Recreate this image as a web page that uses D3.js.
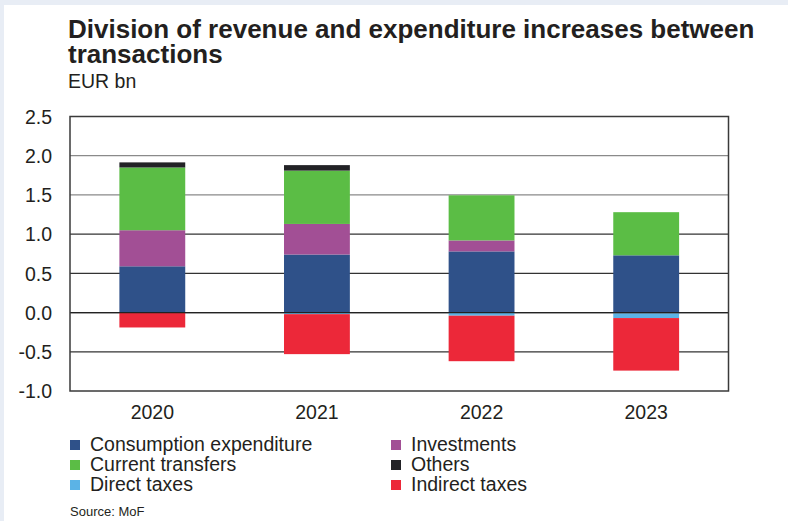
<!DOCTYPE html>
<html>
<head>
<meta charset="utf-8">
<script src="https://cdnjs.cloudflare.com/ajax/libs/d3/7.8.5/d3.min.js"></script>
<style>
    body { margin: 0; background: #fff; }
    text { font-family: "Liberation Sans", Arial, sans-serif; fill: #231f20; }
</style>
</head>
<body>
<script>
// Chart data (EUR bn)
var years = ["2020", "2021", "2022", "2023"];
var consumption      = [0.59, 0.74, 0.78, 0.73];
var investments      = [0.46, 0.39, 0.14, 0.00];
var currentTransfers = [0.80, 0.68, 0.575, 0.55];
var others           = [0.065, 0.07, 0.00, -0.01];
var directTaxes      = [0.00, -0.02, -0.04, -0.06];
var indirectTaxes    = [-0.19, -0.51, -0.58, -0.67];
var yTicks = [-1.0, -0.5, 0.0, 0.5, 1.0, 1.5, 2.0, 2.5];

var seriesNames = ["Consumption expenditure", "Investments", "Current transfers",
                   "Others", "Direct taxes", "Indirect taxes"];
var seriesValues = [consumption, investments, currentTransfers, others, directTaxes, indirectTaxes];
var seriesColors = ["#2f5189", "#a24f95", "#5bbd45", "#222226", "#5bb3e6", "#ec2839"];

var width = 788, height = 521;

var svg = d3.select("body").append("svg")
    .attr("width", width)
    .attr("height", height);

// light frame strips on top and left
svg.append("rect").attr("x", 0).attr("y", 0).attr("width", width).attr("height", 5).attr("fill", "#e8edf5");
svg.append("rect").attr("x", 0).attr("y", 0).attr("width", 4).attr("height", height).attr("fill", "#e8edf5");

////////////////////////////
// Titles
var title = svg.append("text")
    .attr("x", 68).attr("y", 38)
    .attr("font-size", "26px").attr("font-weight", "bold");
title.append("tspan").attr("x", 68).attr("y", 38).text("Division of revenue and expenditure increases between");
title.append("tspan").attr("x", 68).attr("y", 63).text("transactions");

svg.append("text").attr("x", 68).attr("y", 88).attr("font-size", "19.5px").text("EUR bn");

////////////////////////////
// Scales
var plotL = 70, plotR = 728.5, plotT = 116.5, plotB = 391;

var x = d3.scaleBand().domain(years).range([plotL, plotR]).paddingInner(0.6).paddingOuter(0.3);
var y = d3.scaleLinear().domain([-1, 2.5]).range([plotB, plotT]);

// rows for the stack
var rows = years.map(function(yr, i) {
    var r = { year: yr };
    seriesNames.forEach(function(n, k) { r[n] = seriesValues[k][i]; });
    return r;
});

var stacked = d3.stack()
    .keys(seriesNames)
    .offset(d3.stackOffsetDiverging)(rows);

// gridlines
svg.append("g").selectAll("line")
    .data(yTicks.slice(1, -1))
    .enter().append("line")
    .attr("x1", plotL).attr("x2", plotR)
    .attr("y1", function(d) { return y(d); })
    .attr("y2", function(d) { return y(d); })
    .attr("stroke", function(d) { return d >= 1.5 ? "#8a8a8a" : "#333"; })
    .attr("stroke-width", 1.2);

// bars
svg.append("g").selectAll("g")
    .data(stacked)
    .enter().append("g")
    .attr("fill", function(d, i) { return seriesColors[i]; })
    .selectAll("rect")
    .data(function(d) { return d; })
    .enter().append("rect")
    .attr("x", function(d) { return x(d.data.year); })
    .attr("width", x.bandwidth())
    .attr("y", function(d) { return y(Math.max(d[0], d[1])); })
    .attr("height", function(d) { return Math.abs(y(d[0]) - y(d[1])); });

// zero line over bars
svg.append("line")
    .attr("x1", plotL).attr("x2", plotR)
    .attr("y1", y(0)).attr("y2", y(0))
    .attr("stroke", "#222").attr("stroke-width", 1.2);

// plot frame
svg.append("rect")
    .attr("x", plotL).attr("y", plotT)
    .attr("width", plotR - plotL).attr("height", plotB - plotT)
    .attr("fill", "none").attr("stroke", "#3a3a3a").attr("stroke-width", 1.5);

// y axis labels
var yAxis = svg.append("g")
    .attr("transform", "translate(" + (plotL - 18) + ",0)")
    .call(d3.axisLeft(y).tickValues(yTicks).tickFormat(d3.format(".1f")).tickSize(0).tickPadding(0));
yAxis.select(".domain").remove();
yAxis.attr("font-family", null).attr("font-size", null);
yAxis.selectAll("text")
    .attr("font-size", "19.5px")
    .attr("dy", "0.35em")
    .text(function(d) { return d < 0 ? "-" + d3.format(".1f")(-d) : d3.format(".1f")(d); });

// x axis labels
var xAxis = svg.append("g")
    .attr("transform", "translate(0," + plotB + ")")
    .call(d3.axisBottom(x).tickSize(0).tickPadding(14));
xAxis.select(".domain").remove();
xAxis.attr("font-family", null).attr("font-size", null);
xAxis.selectAll("text").attr("font-size", "19.5px");

////////////////////////////
// Legend (two columns, row-wise)
var legend = svg.append("g").selectAll("g")
    .data(seriesNames)
    .enter().append("g")
    .attr("transform", function(d, i) {
        var col = i % 2, row = Math.floor(i / 2);
        return "translate(" + (col === 0 ? 70 : 391) + "," + (440 + row * 20) + ")";
    });

legend.append("rect")
    .attr("width", 10).attr("height", 10)
    .attr("fill", function(d, i) { return seriesColors[i]; });

legend.append("text")
    .attr("x", 20).attr("y", 11)
    .attr("font-size", "19.5px")
    .text(function(d) { return d; });

svg.append("text").attr("x", 70).attr("y", 516).attr("font-size", "13px").text("Source: MoF");
</script>
</body>
</html>
